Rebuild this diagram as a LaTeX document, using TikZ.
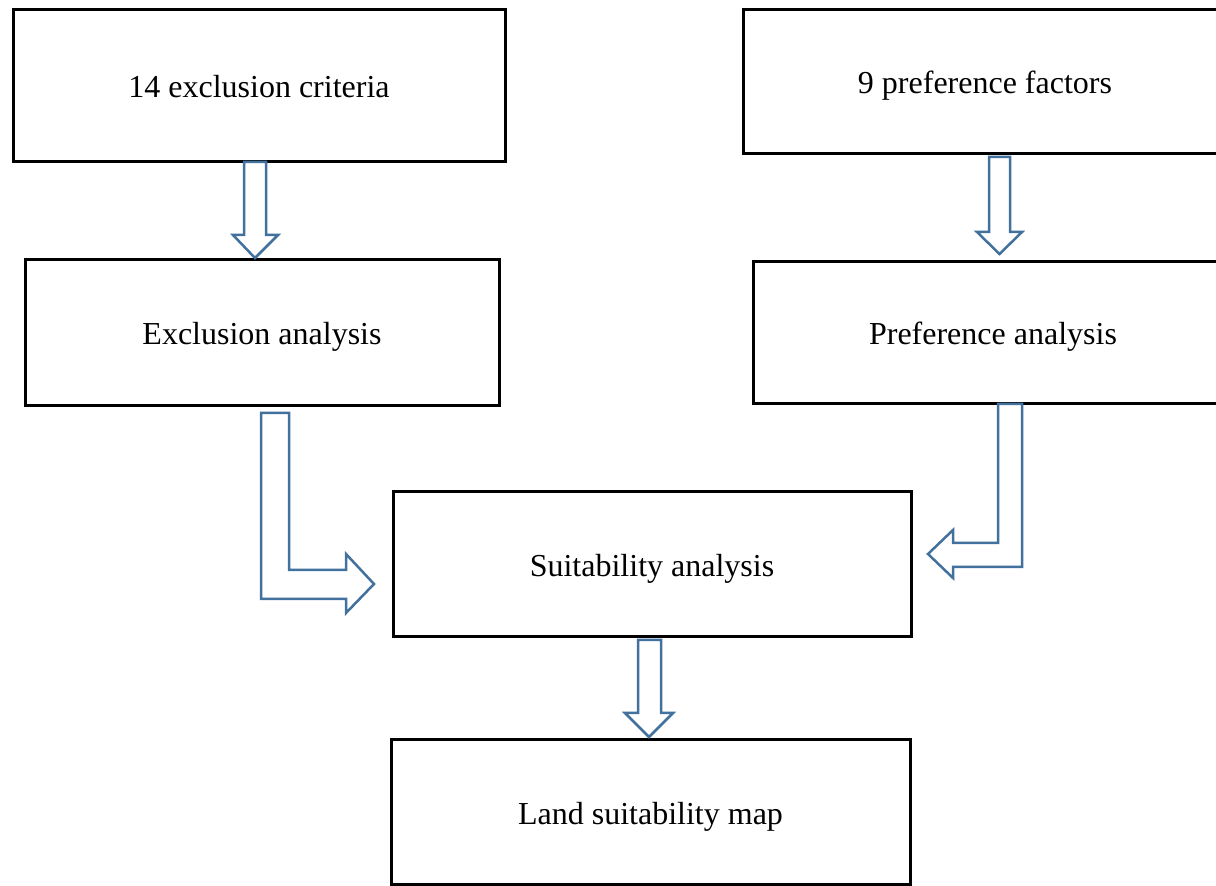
\documentclass[tikz,border=0pt]{standalone}
\usepackage{fontspec}
\setmainfont{Liberation Serif}
\definecolor{arrowblue}{HTML}{41719C}
\begin{document}
\begin{tikzpicture}[x=0.5pt,y=-0.5pt,
  box/.style={draw=black,line width=1.5pt,fill=white,inner sep=0pt,
    text height=13pt,text depth=1pt,
    font=\fontsize{16}{19}\selectfont},
  blockarrow/.style={draw=arrowblue,line width=1.25pt,fill=white,line join=miter}]
\clip (0,0) rectangle (1216,886);
\fill[white] (0,0) rectangle (1216,886);
% boxes
\node[box,minimum width=246pt,minimum height=76pt] (A) at (259,86) {14 exclusion criteria};
\node[box,minimum width=242pt,minimum height=72pt] (B) at (985,82) {9 preference factors};
\node[box,minimum width=237pt,minimum height=73pt] (C) at (262,333) {Exclusion analysis};
\node[box,minimum width=240pt,minimum height=71pt] (D) at (993,333) {Preference analysis};
\node[box,minimum width=259pt,minimum height=72.5pt] (E) at (652,564.5) {Suitability analysis};
\node[box,minimum width=259.5pt,minimum height=72.5pt] (F) at (650.5,812.5) {Land suitability map};
% block arrows
% A -> C
\draw[blockarrow] (244,162) -- (266,162) -- (266,235) -- (278,235) -- (255,258) -- (233,235) -- (244,235) -- cycle;
% B -> D
\draw[blockarrow] (989,157) -- (1010,157) -- (1010,232) -- (1022,232) -- (999.5,254) -- (977,232) -- (989,232) -- cycle;
% E -> F
\draw[blockarrow] (638,640) -- (661,640) -- (661,713) -- (673,713) -- (649,737) -- (625,713) -- (638,713) -- cycle;
% C -> E (L shape)
\draw[blockarrow] (261,413) -- (289,413) -- (289,570) -- (346,570) -- (346,554) -- (374,584) -- (346,613) -- (346,599) -- (261,599) -- cycle;
% D -> E (L shape)
\draw[blockarrow] (998,404) -- (1022,404) -- (1022,567) -- (953,567) -- (953,578) -- (928,554) -- (953,530) -- (953,543) -- (998,543) -- cycle;
\end{tikzpicture}
\end{document}
